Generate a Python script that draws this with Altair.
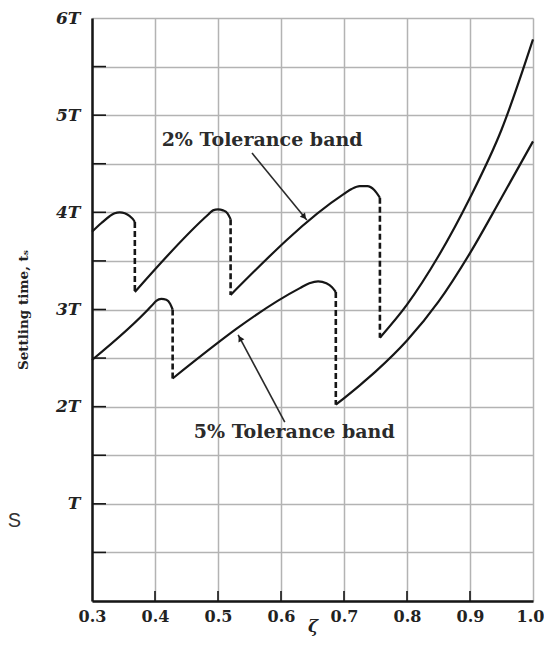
import math
import altair as alt
import pandas as pd

# ---------------- data ----------------
# 2% tolerance band: solid pieces and dashed jumps
z2_a = [0.300, 0.315, 0.328, 0.336, 0.344, 0.352, 0.360, 0.365, 0.368]
t2_a = [3.80, 3.89, 3.96, 3.99, 4.00, 3.99, 3.96, 3.93, 3.90]
z2_b = [0.368, 0.485, 0.492, 0.500, 0.508, 0.515, 0.520]
t2_b = [3.18, 3.98, 4.02, 4.03, 4.02, 3.99, 3.93]
z2_c = [0.520, 0.700, 0.712, 0.725, 0.737, 0.748, 0.757]
t2_c = [3.15, 4.19, 4.24, 4.27, 4.27, 4.23, 4.15]
z2_d = [0.757, 0.800, 0.850, 0.900, 0.950, 1.000]
t2_d = [2.71, 3.05, 3.55, 4.15, 4.85, 5.78]
z2_jump = [0.368, 0.520, 0.757]
t2_jump_top = [3.90, 3.93, 4.15]
t2_jump_bot = [3.18, 3.15, 2.71]

# 5% tolerance band
z5_a = [0.300, 0.395, 0.402, 0.410, 0.418, 0.424, 0.428]
t5_a = [2.48, 3.04, 3.09, 3.11, 3.10, 3.06, 3.00]
z5_b = [0.428, 0.630, 0.645, 0.659, 0.672, 0.681, 0.687]
t5_b = [2.29, 3.22, 3.27, 3.29, 3.27, 3.23, 3.18]
z5_c = [0.687, 0.725, 0.750, 0.800, 0.850, 0.900, 0.950, 1.000]
t5_c = [2.02, 2.22, 2.36, 2.68, 3.08, 3.58, 4.15, 4.73]
z5_jump = [0.428, 0.687]
t5_jump_top = [3.00, 3.18]
t5_jump_bot = [2.29, 2.02]

# annotations
ann_text = ["2% Tolerance band", "5% Tolerance band"]
ann_z = [0.570, 0.621]
ann_t = [4.74, 1.74]
arrow_tail_z = [0.554, 0.606]
arrow_tail_t = [4.61, 1.84]
arrow_head_z = [0.641, 0.532]
arrow_head_t = [3.92, 2.74]

# axes
x_ticks = [0.3, 0.4, 0.5, 0.6, 0.7, 0.8, 0.9, 1.0]
x_inner_ticks = [0.4, 0.5, 0.6, 0.7, 0.8, 0.9]
y_grid = [0, 0.5, 1, 1.5, 2, 2.5, 3, 3.5, 4, 4.5, 5, 5.5, 6]
y_inner_ticks = [0.5, 1, 1.5, 2, 2.5, 3, 3.5, 4, 4.5, 5, 5.5]
stray_text = ["eS"]

# ---------------- layout ----------------
W, H = 441, 583
XD = [0.3, 1.0]
YD = [0.0, 6.0]
INK = "#161616"
SERIF = "DejaVu Serif"


def px(z):
    return (z - XD[0]) / (XD[1] - XD[0]) * W


def py(t):
    return H - (t - YD[0]) / (YD[1] - YD[0]) * H


rows = []
for name, segs in [
    ("2%", [(z2_a, t2_a), (z2_b, t2_b), (z2_c, t2_c), (z2_d, t2_d)]),
    ("5%", [(z5_a, t5_a), (z5_b, t5_b), (z5_c, t5_c)]),
]:
    for i, (zs, ts) in enumerate(segs):
        for z, t in zip(zs, ts):
            rows.append({"zeta": z, "ts": t, "seg": f"{name}-{i}"})
solid = pd.DataFrame(rows)

jumps = pd.DataFrame({
    "zeta": z2_jump + z5_jump,
    "top": t2_jump_top + t5_jump_top,
    "bot": t2_jump_bot + t5_jump_bot,
})

ann = pd.DataFrame({"zeta": ann_z, "ts": ann_t, "text": ann_text})

arrows = pd.DataFrame({
    "z0": arrow_tail_z, "t0": arrow_tail_t,
    "z1": arrow_head_z, "t1": arrow_head_t,
})
heads = []
for z0, t0, z1, t1 in zip(arrow_tail_z, arrow_tail_t, arrow_head_z, arrow_head_t):
    dx, dy = px(z1) - px(z0), py(t1) - py(t0)
    L = math.hypot(dx, dy)
    ang = math.degrees(math.atan2(dx, -dy)) % 360
    back = 5.0
    hx, hy = px(z1) - dx / L * back, py(t1) - dy / L * back
    hz = XD[0] + hx / W * (XD[1] - XD[0])
    ht = YD[0] + (H - hy) / H * (YD[1] - YD[0])
    heads.append({"zeta": hz, "ts": ht, "angle": ang})
heads = pd.DataFrame(heads)

xscale = alt.Scale(domain=XD, nice=False, zero=False)
yscale = alt.Scale(domain=YD, nice=False, zero=False)

xaxis = alt.Axis(
    values=x_ticks, format=".1f", grid=True, gridColor="#b3b3b3", gridWidth=1.5,
    ticks=False, domain=True, domainColor=INK, domainWidth=2.5,
    labelFont=SERIF, labelFontWeight="bold", labelFontSize=16, labelColor="#222",
    labelPadding=7, labelFlush=False, labelOverlap=False,
    labelOffset={"condition": {"test": "datum.value >= 0.99", "value": -3}, "value": 0},
    title="ζ", titleFont=SERIF, titleFontStyle="italic", titleFontWeight="bold",
    titleFontSize=17, titleColor="#222", titleY=30, titleBaseline="alphabetic",
)
yaxis = alt.Axis(
    values=y_grid, grid=True, gridColor="#b3b3b3", gridWidth=1.5,
    ticks=False, domain=True, domainColor=INK, domainWidth=2.5,
    labelExpr="datum.value == 0 || datum.value % 1 != 0 ? '' : (datum.value == 1 ? 'T' : datum.value + 'T')",
    labelFont=SERIF, labelFontWeight="bold", labelFontStyle="italic", labelFontSize=17,
    labelColor="#222", labelPadding=12, labelFlush=False, labelOverlap=False,
    title="Settling time, tₛ", titleFont=SERIF, titleFontWeight="bold", titleFontSize=13.5,
    titleColor="#222", titleX=-69, titleY=H / 2, titleBaseline="middle", titleAngle=270,
)

X = lambda f: alt.X(f, type="quantitative", scale=xscale, axis=xaxis)
Y = lambda f: alt.Y(f, type="quantitative", scale=yscale, axis=yaxis)

ytick_layer = alt.Chart(pd.DataFrame({"v": y_inner_ticks})).mark_rule(
    color=INK, strokeWidth=1.6
).encode(y=Y("v"), x=alt.value(0), x2=alt.value(14))

xtick_layer = alt.Chart(pd.DataFrame({"v": x_inner_ticks})).mark_rule(
    color=INK, strokeWidth=1.6
).encode(x=X("v"), y=alt.value(H), y2=alt.value(H - 10))

lines = alt.Chart(solid).mark_line(
    color=INK, strokeWidth=2.2, interpolate="monotone"
).encode(x=X("zeta"), y=Y("ts"), detail="seg:N")

dashes = alt.Chart(jumps).mark_rule(
    color=INK, strokeWidth=2.6, strokeDash=[6, 3]
).encode(x=X("zeta"), y=Y("top"), y2="bot")

arrow_lines = alt.Chart(arrows).mark_rule(color="#2a2a2a", strokeWidth=1.6).encode(
    x=X("z0"), y=Y("t0"), x2="z1", y2="t1"
)
arrow_heads = alt.Chart(heads).mark_point(
    shape="triangle", filled=True, color="#1a1a1a", size=45, opacity=1
).encode(x=X("zeta"), y=Y("ts"), angle=alt.Angle("angle:Q", scale=None))

labels = alt.Chart(ann).mark_text(
    font=SERIF, fontWeight="bold", fontSize=19, color="#2b2b2b"
).encode(x=X("zeta"), y=Y("ts"), text="text:N")

stray = alt.Chart(pd.DataFrame({"s": stray_text})).mark_text(
    font="Liberation Sans", fontSize=20, color="#333", align="right", baseline="middle"
).encode(x=alt.value(-71), y=alt.value(503), text="s:N")

chart = alt.layer(
    ytick_layer, xtick_layer, lines, dashes, arrow_lines, arrow_heads, labels, stray
).properties(
    width=W, height=H,
    padding={"left": 84, "top": 10, "right": 11, "bottom": 36},
    autosize=alt.AutoSizeParams(type="none"),
).configure_view(stroke=INK, strokeWidth=2.5).configure(background="white")

chart.save("out.html", embed_options={"renderer": "svg", "actions": False})
